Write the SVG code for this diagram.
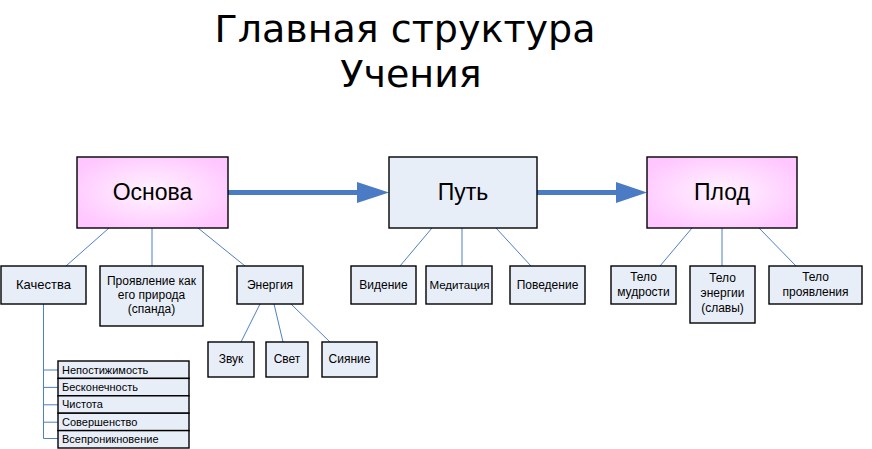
<svg xmlns="http://www.w3.org/2000/svg" width="872" height="449" viewBox="0 0 872 449">
<defs>
<radialGradient id="pink" cx="50%" cy="50%" r="60%">
<stop offset="0" stop-color="#FFF4FF"/>
<stop offset="1" stop-color="#FFC6FF"/>
</radialGradient>
<style>
.box{fill:#E8EEF8;stroke:#000;stroke-width:1.4}
.main{fill:url(#pink);stroke:#000;stroke-width:1.4}
.lnk{stroke:#4F7FC4;stroke-width:1;fill:none}
.arr{stroke:#4A7BC4;stroke-width:5;fill:none}
.head{fill:#4A7BC4}
text{font-family:"Liberation Sans",Arial,sans-serif;fill:#000}
.big{font-size:23px;text-anchor:middle}
.sm{font-size:12px;text-anchor:middle}
.ls{font-size:11px}
.title{font-family:"DejaVu Sans",Verdana,sans-serif;font-size:38px;text-anchor:middle}
</style>
</defs>
<rect width="872" height="449" fill="#fff"/>
<g id="title">
<text class="title" x="405" y="42">Главная структура</text>
<text class="title" x="411" y="87">Учения</text>
</g>
<g id="connectors">
<line class="arr" x1="228" y1="192.5" x2="359" y2="192.5"/>
<polygon class="head" points="357,182 389,192.5 357,203"/>
<line class="arr" x1="537" y1="192.5" x2="618" y2="192.5"/>
<polygon class="head" points="616,182 647,192.5 616,203"/>
<line class="lnk" x1="109" y1="228" x2="66" y2="266"/>
<line class="lnk" x1="152" y1="228" x2="152" y2="266"/>
<line class="lnk" x1="198" y1="228" x2="245" y2="266"/>
<line class="lnk" x1="432" y1="228" x2="400" y2="266"/>
<line class="lnk" x1="462" y1="228" x2="462" y2="266"/>
<line class="lnk" x1="496" y1="228" x2="531" y2="266"/>
<line class="lnk" x1="692" y1="228" x2="660" y2="266"/>
<line class="lnk" x1="722" y1="228" x2="722" y2="266"/>
<line class="lnk" x1="759" y1="228" x2="796" y2="266"/>
<line class="lnk" x1="260" y1="304" x2="241" y2="342"/>
<line class="lnk" x1="274" y1="304" x2="283" y2="342"/>
<line class="lnk" x1="291" y1="304" x2="330" y2="342"/>
<path class="lnk" d="M43.5,304 V438.5 M43.5,370 H58 M43.5,387.4 H58 M43.5,404.8 H58 M43.5,422.2 H58 M43.5,438.5 H58"/>
</g>
<g id="osnova"><rect class="main" x="77" y="157" width="151" height="71"/><text class="big" x="152.5" y="200">Основа</text></g>
<g id="put"><rect class="box" x="389" y="157" width="148" height="71"/><text class="big" x="463" y="200">Путь</text></g>
<g id="plod"><rect class="main" x="647" y="157" width="150" height="71"/><text class="big" x="722" y="200">Плод</text></g>
<g id="kachestva"><rect class="box" x="1" y="266" width="85" height="38"/><text class="sm" x="43.5" y="289" style="font-size:13px">Качества</text></g>
<g id="proyavlenie"><rect class="box" x="100" y="266" width="103" height="60"/><text class="sm" x="151.5" y="285">Проявление как</text><text class="sm" x="151.5" y="299">его природа</text><text class="sm" x="151.5" y="313">(спанда)</text></g>
<g id="energiya"><rect class="box" x="237" y="266" width="66" height="38"/><text class="sm" x="270" y="289">Энергия</text></g>
<g id="videnie"><rect class="box" x="351" y="266" width="65" height="38"/><text class="sm" x="383.5" y="289">Видение</text></g>
<g id="meditaciya"><rect class="box" x="426" y="266" width="66" height="38"/><text class="sm" x="459.5" y="289" style="font-size:11.6px">Медитация</text></g>
<g id="povedenie"><rect class="box" x="510" y="266" width="75" height="38"/><text class="sm" x="547.5" y="289">Поведение</text></g>
<g id="telo-mudrosti"><rect class="box" x="611" y="266" width="65" height="38"/><text class="sm" x="643.5" y="281">Тело</text><text class="sm" x="643.5" y="296">мудрости</text></g>
<g id="telo-energii"><rect class="box" x="690" y="266" width="65" height="57"/><text class="sm" x="722.5" y="282">Тело</text><text class="sm" x="722.5" y="297">энергии</text><text class="sm" x="722.5" y="312">(славы)</text></g>
<g id="telo-proyavleniya"><rect class="box" x="769" y="266" width="93" height="38"/><text class="sm" x="815.5" y="281">Тело</text><text class="sm" x="815.5" y="296">проявления</text></g>
<g id="zvuk"><rect class="box" x="208" y="342" width="46" height="35"/><text class="sm" x="231" y="363">Звук</text></g>
<g id="svet"><rect class="box" x="266" y="342" width="42" height="35"/><text class="sm" x="287" y="363">Свет</text></g>
<g id="siyanie"><rect class="box" x="322" y="342" width="55" height="35"/><text class="sm" x="349.5" y="363">Сияние</text></g>
<g id="list">
<rect class="box" x="58" y="361" width="131" height="17.4"/>
<rect class="box" x="58" y="378.4" width="131" height="17.4"/>
<rect class="box" x="58" y="395.8" width="131" height="17.4"/>
<rect class="box" x="58" y="413.2" width="131" height="17.4"/>
<rect class="box" x="58" y="430.6" width="131" height="17.4"/>
<text class="ls" x="62" y="373.5">Непостижимость</text>
<text class="ls" x="62" y="390.9">Бесконечность</text>
<text class="ls" x="62" y="408.3">Чистота</text>
<text class="ls" x="62" y="425.7">Совершенство</text>
<text class="ls" x="62" y="443.1">Всепроникновение</text>
</g>
</svg>
